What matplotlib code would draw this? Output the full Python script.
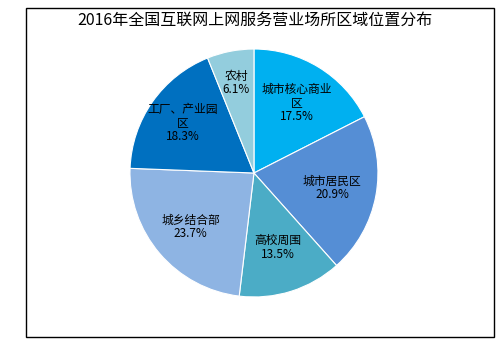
import numpy as np
import matplotlib.pyplot as plt
from matplotlib.patches import Rectangle

plt.rcParams['font.family'] = ['Noto Sans CJK SC', 'DejaVu Sans']

# data
categories = ['城市核心商业\n区', '城市居民区', '高校周围', '城乡结合部', '工厂、产业园\n区', '农村']
shares = [17.5, 20.9, 13.5, 23.7, 18.3, 6.1]
colors = ['#00B0F0', '#558ED5', '#4BACC6', '#8EB4E3', '#0070C0', '#93CDDD']
title = '2016年全国互联网上网服务营业场所区域位置分布'

fig = plt.figure(figsize=(5.03, 3.46), dpi=100)
fig.patch.set_facecolor('white')

# outer frame
fig.add_artist(Rectangle((0.052, 0.026), 0.930, 0.951, transform=fig.transFigure,
                         fill=False, edgecolor='black', linewidth=1.0))

fig.text(0.507, 1 - 20 / 346, title, ha='center', va='center', fontsize=11.5)

ax = fig.add_axes([0.2584, 0.1416, 0.493, 0.7168])
wedges, _ = ax.pie(shares, colors=colors, startangle=90, counterclock=False,
                   wedgeprops=dict(edgecolor='white', linewidth=0.8))
ax.set_xlim(-1, 1)
ax.set_ylim(-1, 1)
ax.set_aspect('equal')

# labels inside the wedges
dist = [0.66, 0.64, 0.63, 0.67, 0.7, 0.74]
for w, name, val, d in zip(wedges, categories, shares, dist):
    ang = np.deg2rad((w.theta1 + w.theta2) / 2)
    ax.text(d * np.cos(ang), d * np.sin(ang), f'{name}\n{val}%',
            ha='center', va='center', fontsize=8.5, linespacing=1.05)

fig.savefig('out.png', dpi=100)
